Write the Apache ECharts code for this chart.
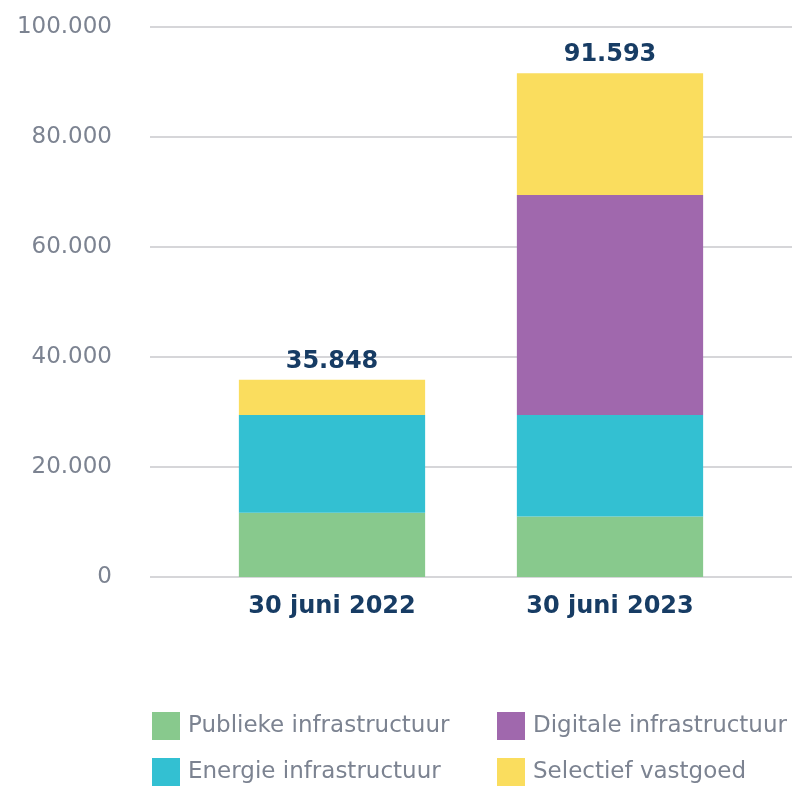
<!DOCTYPE html>
<html>
<head>
<meta charset="utf-8">
<script src="https://cdn.jsdelivr.net/npm/echarts@6/dist/echarts.min.js"></script>
<style>
  html, body { margin: 0; padding: 0; background: #fff; }
  #chart { width: 792px; height: 786px; }
</style>
</head>
<body>
<div id="chart"></div>
<script>
var categories = ['30 juni 2022', '30 juni 2023'];
var publiek = [11700, 11000];
var energie = [17750, 18450];
var digitaal = [0, 40000];
var vastgoed = [6398, 22143];
var totals = [35848, 91593];
var yTicks = [0, 20000, 40000, 60000, 80000, 100000];

var fontFam = '"DejaVu Sans", sans-serif';
var navy = '#173c64';
var grey = '#7c8391';

function fmt(v) {
    return String(v).replace(/\B(?=(\d{3})+(?!\d))/g, '.');
}

var chart = echarts.init(document.getElementById('chart'));

function bar(name, data, color) {
    return {
        name: name,
        type: 'bar',
        stack: 'tot',
        xAxisIndex: 1,
        yAxisIndex: 1,
        barWidth: '67%',
        itemStyle: { color: color },
        data: data
    };
}

var series = [
    bar('Publieke infrastructuur', publiek, '#88c98d'),
    bar('Energie infrastructuur', energie, '#33c0d2'),
    bar('Digitale infrastructuur', digitaal, '#a068ad'),
    bar('Selectief vastgoed', vastgoed, '#fadd5e')
];
// totaal boven de stapel
series[3].label = {
    show: true,
    position: 'top',
    distance: 6,
    color: navy,
    fontFamily: fontFam,
    fontWeight: 'bold',
    fontSize: 24,
    formatter: function (p) { return fmt(totals[p.dataIndex]); }
};

function legend(names, left) {
    return {
        data: names,
        orient: 'vertical', left: left, top: 712, padding: 0,
        itemWidth: 28, itemHeight: 28, itemGap: 18,
        icon: 'rect',
        textStyle: { color: grey, fontFamily: fontFam, fontSize: 23, padding: [0, 0, 0, 3] }
    };
}

var option = {
    backgroundColor: '#fff',
    animation: false,
    grid: [
        { left: 150, right: 0, top: 27, bottom: 209 },
        { left: 193, width: 556, top: 27, bottom: 209 }
    ],
    xAxis: [
        { type: 'value', gridIndex: 0, show: false, min: 0, max: 1 },
        {
            type: 'category', gridIndex: 1, data: categories,
            axisLine: { show: false }, axisTick: { show: false },
            axisLabel: { color: navy, fontFamily: fontFam, fontWeight: 'bold', fontSize: 24, margin: 18 }
        }
    ],
    yAxis: [
        {
            type: 'value', gridIndex: 0, min: yTicks[0], max: yTicks[yTicks.length - 1], interval: 20000,
            axisLine: { show: false }, axisTick: { show: false },
            splitLine: { lineStyle: { color: '#c8c8cc', width: 1.5 } },
            axisLabel: { color: grey, fontFamily: fontFam, fontSize: 23, margin: 38, formatter: fmt }
        },
        {
            type: 'value', gridIndex: 1, min: yTicks[0], max: yTicks[yTicks.length - 1], interval: 20000,
            show: false, splitLine: { show: false }
        }
    ],
    legend: [
        legend(['Publieke infrastructuur', 'Energie infrastructuur'], 152),
        legend(['Digitale infrastructuur', 'Selectief vastgoed'], 497)
    ],
    series: series
};

chart.setOption(option);
</script>
</body>
</html>
